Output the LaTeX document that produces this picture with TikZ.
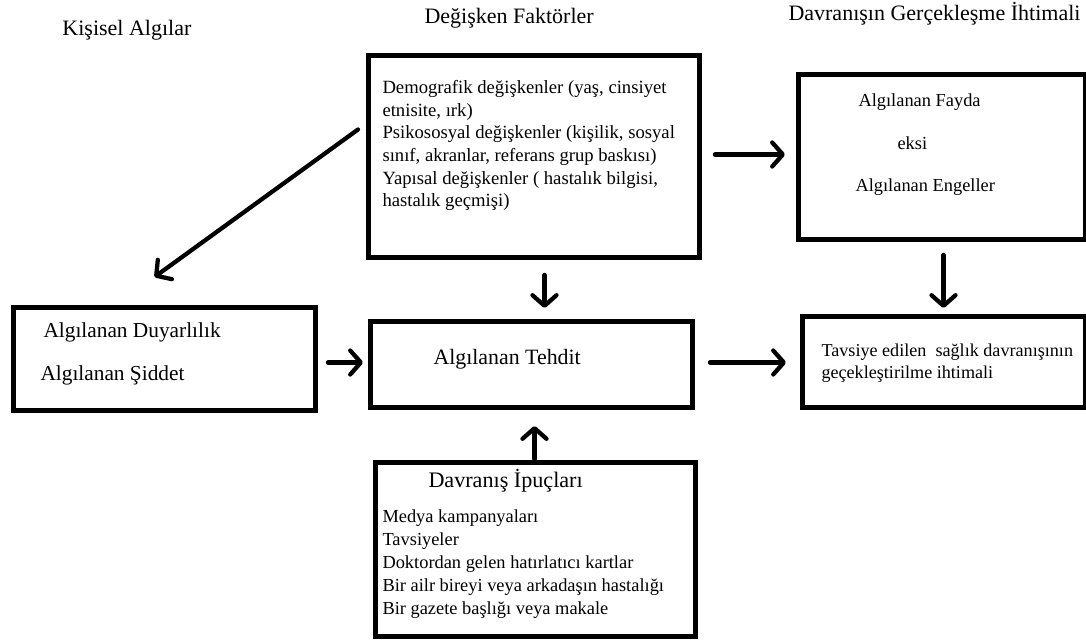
\documentclass[tikz,border=0pt]{standalone}
\usepackage{fontspec}
\setmainfont{Liberation Serif}
\usetikzlibrary{arrows.meta,calc}

\tikzset{every picture/.style={line width=0.75pt}}
\tikzset{
  kutu/.style={draw, line width=3.75pt, inner sep=0pt, anchor=north west},
  ok/.style={line width=3.2pt, line cap=round, -{Straight Barb[length=8pt,width=18pt,line cap=round,line join=round]}},
  yazi/.style={inner sep=0pt, anchor=base west},
  liste/.style={inner sep=0pt, anchor=north west, align=left}
}

\begin{document}
\begin{tikzpicture}[x=0.75pt,y=0.75pt,yscale=-1,xscale=1]
\useasboundingbox (0,0) rectangle (1086,641);

% Boxes
\node [kutu, minimum width=331*0.75pt, minimum height=202*0.75pt] (dk) at (366,53) {};
\node [kutu, minimum width=287.5*0.75pt, minimum height=165*0.75pt] (fayda) at (795.5,72.5) {};
\node [kutu, minimum width=302*0.75pt, minimum height=102.5*0.75pt] (duy) at (10.5,305.5) {};
\node [kutu, minimum width=322*0.75pt, minimum height=86*0.75pt] (tehdit) at (367.5,319.5) {};
\node [kutu, minimum width=320*0.75pt, minimum height=173*0.75pt] (ipucu) at (372.5,460.5) {};
\node [kutu, minimum width=283.5*0.75pt, minimum height=91*0.75pt] (tavsiye) at (799.5,314.5) {};

% Titles
\node [yazi, font=\fontsize{16.5}{20}\selectfont] (t1) at (62,36) {Kişisel Algılar};
\node [yazi, font=\fontsize{16.5}{20}\selectfont] (t2) at (424,24) {Değişken Faktörler};
\node [yazi, font=\fontsize{16.5}{20}\selectfont] (t3) at (788,21) {Davranışın Gerçekleşme İhtimali};

% Text Node
\node [liste, font=\fontsize{14}{17}\selectfont] (dkyazi) at (382,80) {Demografik değişkenler (yaş, cinsiyet\\etnisite, ırk)\\Psikososyal değişkenler (kişilik, sosyal\\sınıf, akranlar, referans grup baskısı)\\Yapısal değişkenler ( hastalık bilgisi,\\hastalık geçmişi)};
% Text Node
\node [yazi, font=\fontsize{13.8}{17}\selectfont] (fy1) at (858,107) {Algılanan Fayda};
\node [yazi, font=\fontsize{13.8}{17}\selectfont] (fy2) at (897,150) {eksi};
\node [yazi, font=\fontsize{13.8}{17}\selectfont] (fy3) at (855,192) {Algılanan Engeller};
% Text Node
\node [yazi, font=\fontsize{16}{20}\selectfont] (dy1) at (43,338) {Algılanan Duyarlılık};
\node [yazi, font=\fontsize{16}{20}\selectfont] (dy2) at (40,381) {Algılanan Şiddet};
% Text Node
\node [yazi, font=\fontsize{16.4}{20}\selectfont] (th) at (433,365) {Algılanan Tehdit};
% Text Node
\node [yazi, font=\fontsize{16.6}{20}\selectfont] (ip) at (428,488) {Davranış İpuçları};
\node [liste, font=\fontsize{13.8}{17.3}\selectfont] (iplist) at (382,509) {Medya kampanyaları\\Tavsiyeler\\Doktordan gelen hatırlatıcı kartlar\\Bir ailr bireyi veya arkadaşın hastalığı\\Bir gazete başlığı veya makale};
% Text Node
\node [liste, font=\fontsize{13.6}{16.5}\selectfont] (tvyazi) at (821,343) {Tavsiye edilen\ \ sağlık davranışının\\geçekleştirilme ihtimali};

% Arrows
\draw [ok] ($(dk.west)+(-8,-27)$) -- ($(duy.north)+(-9.5,-28.5)$);
\draw [ok] ($(dk.east)+(13,-2)$) -- ($(fayda.west)+(-10.5,-3)$);
\draw [ok] ($(dk.south)+(10.5,15)$) -- ($(tehdit.north)+(13.5,-11.5)$);
\draw [ok] ($(fayda.south)+(1.75,12.5)$) -- ($(tavsiye.north)+(-0.25,-6.5)$);
\draw [ok] ($(duy.east)+(10.5,3.25)$) -- ($(tehdit.west)+(-4.5,-2.5)$);
\draw [ok] ($(tehdit.east)+(15.5,-2.5)$) -- ($(tavsiye.west)+(-13.5,0)$);
\draw [ok] ($(ipucu.north)+(-0.5,-1.5)$) -- ($(tehdit.south)+(3.5,15.5)$);

\end{tikzpicture}
\end{document}
